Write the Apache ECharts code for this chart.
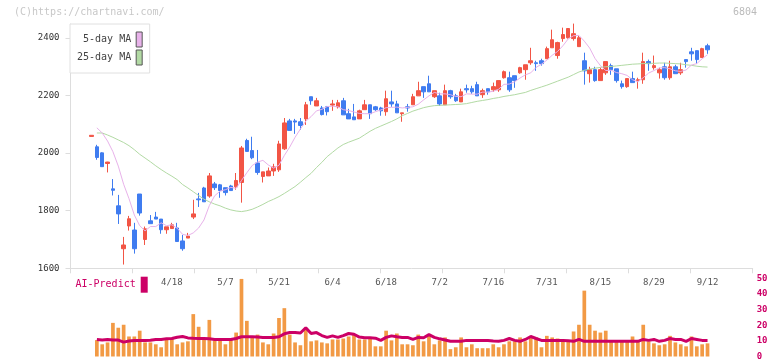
<!DOCTYPE html>
<html><head><meta charset="utf-8">
<script src="https://cdn.jsdelivr.net/npm/echarts@6/dist/echarts.min.js"></script>
<style>html,body{margin:0;padding:0;background:#fff}#c{width:772px;height:361px}</style>
</head><body><div id="c"></div>
<script>
const dates = ['3/28','3/31','4/1','4/2','4/3','4/4','4/7','4/8','4/9','4/10','4/11','4/14','4/15','4/16','4/17','4/18','4/21','4/22','4/23','4/24','4/25','4/28','4/30','5/1','5/2','5/7','5/8','5/9','5/12','5/13','5/14','5/15','5/16','5/19','5/20','5/21','5/22','5/23','5/26','5/27','5/28','5/29','5/30','6/2','6/3','6/4','6/5','6/6','6/9','6/10','6/11','6/12','6/13','6/16','6/17','6/18','6/19','6/20','6/23','6/24','6/25','6/26','6/27','6/30','7/1','7/2','7/3','7/4','7/7','7/8','7/9','7/10','7/11','7/14','7/15','7/16','7/17','7/18','7/22','7/23','7/24','7/25','7/28','7/29','7/30','7/31','8/1','8/4','8/5','8/6','8/7','8/8','8/12','8/13','8/14','8/15','8/18','8/19','8/20','8/21','8/22','8/25','8/26','8/27','8/28','8/29','9/1','9/2','9/3','9/4','9/5','9/8','9/9','9/10','9/11','9/12'];
const opens = [2058,2022,2001,1964,1876,1817,1668,1747,1733,1858,1700,1765,1778,1771,1734,1738,1740,1695,1705,1778,1841,1879,1851,1893,1890,1880,1886,1883,1898,2044,2009,1966,1919,1921,1938,1942,2015,2112,2112,2109,2119,2196,2164,2157,2161,2167,2161,2182,2137,2126,2119,2151,2168,2161,2157,2144,2178,2171,2137,2161,2168,2199,2231,2241,2196,2199,2168,2217,2199,2178,2224,2224,2238,2203,2224,2220,2220,2262,2262,2269,2279,2290,2314,2314,2321,2328,2366,2339,2398,2401,2398,2370,2321,2276,2290,2252,2279,2304,2293,2241,2231,2259,2252,2255,2318,2297,2279,2300,2262,2300,2279,2325,2352,2356,2332,2373];
const closes = [2062,1985,1953,1969,1871,1789,1681,1772,1668,1792,1737,1755,1771,1734,1744,1751,1693,1668,1712,1789,1838,1831,1921,1880,1870,1863,1870,1905,2018,2006,1984,1933,1935,1938,1952,2032,2105,2079,2108,2096,2168,2182,2182,2134,2144,2171,2175,2133,2119,2116,2147,2168,2137,2151,2147,2189,2171,2140,2140,2157,2196,2217,2213,2213,2217,2171,2217,2196,2182,2213,2220,2213,2199,2217,2213,2231,2252,2283,2220,2252,2297,2307,2321,2311,2311,2363,2394,2384,2412,2433,2415,2401,2286,2290,2252,2290,2318,2290,2252,2231,2259,2245,2255,2318,2311,2304,2290,2262,2300,2276,2290,2318,2345,2325,2363,2359];
const highs = [2062,2029,2003,1970,1910,1855,1709,1782,1758,1858,1745,1785,1796,1771,1744,1758,1758,1716,1723,1838,1862,1883,1931,1900,1893,1880,1890,1931,2025,2050,2057,2011,1935,1950,1963,2043,2122,2119,2119,2122,2178,2196,2192,2164,2164,2185,2185,2192,2154,2171,2151,2185,2168,2164,2161,2217,2217,2182,2140,2171,2206,2248,2231,2269,2217,2210,2238,2220,2206,2224,2238,2234,2248,2224,2224,2245,2252,2287,2283,2269,2300,2307,2366,2321,2328,2370,2429,2387,2436,2433,2450,2408,2349,2300,2300,2297,2318,2311,2293,2252,2259,2283,2262,2349,2325,2339,2297,2314,2321,2307,2314,2325,2366,2356,2366,2380];
const lows = [2058,1977,1953,1933,1853,1754,1613,1731,1651,1783,1681,1755,1771,1720,1720,1738,1693,1661,1705,1771,1813,1831,1845,1872,1845,1853,1870,1873,1828,2006,1979,1925,1898,1921,1921,1935,2011,2079,2067,2081,2098,2168,2164,2131,2131,2147,2155,2133,2119,2116,2119,2151,2119,2147,2130,2130,2161,2140,2109,2144,2168,2199,2192,2213,2192,2164,2168,2189,2178,2178,2210,2206,2199,2192,2203,2213,2213,2259,2213,2227,2276,2255,2307,2286,2304,2328,2366,2328,2387,2398,2391,2370,2238,2245,2248,2252,2272,2272,2245,2224,2227,2245,2224,2241,2286,2290,2259,2255,2255,2276,2272,2297,2321,2311,2332,2345];
const ma5 = [null,2088,2070,2042,2005,1955,1892,1842,1785,1748,1730,1745,1745,1758,1748,1751,1739,1718,1714,1723,1740,1768,1818,1852,1868,1873,1881,1878,1905,1932,1957,1969,1975,1959,1948,1958,1992,2021,2055,2084,2111,2127,2147,2152,2162,2163,2161,2151,2148,2143,2138,2137,2137,2144,2150,2158,2159,2160,2157,2159,2161,2170,2185,2199,2211,2206,2206,2203,2197,2196,2206,2205,2205,2212,2212,2215,2222,2239,2240,2248,2261,2272,2279,2298,2309,2323,2340,2353,2373,2397,2408,2409,2389,2365,2329,2304,2287,2288,2280,2276,2270,2255,2248,2262,2278,2287,2296,2297,2293,2286,2284,2289,2306,2311,2328,2342];
const ma25 = [null,2070,2070,2063,2055,2046,2037,2026,2012,1996,1983,1970,1956,1943,1931,1920,1908,1891,1879,1866,1853,1840,1831,1823,1817,1809,1803,1799,1797,1800,1805,1813,1822,1832,1840,1849,1860,1872,1884,1899,1915,1930,1950,1968,1988,2003,2018,2030,2038,2045,2052,2064,2076,2086,2094,2102,2110,2119,2130,2138,2146,2152,2158,2162,2165,2166,2167,2168,2169,2170,2172,2176,2180,2183,2186,2190,2193,2197,2200,2203,2207,2211,2218,2224,2230,2236,2243,2250,2257,2264,2273,2282,2288,2292,2295,2298,2300,2301,2303,2305,2307,2309,2310,2311,2312,2312,2313,2313,2312,2311,2310,2307,2305,2302,2300,2299];
const volume = [null,10.5,7.8,9.0,21.5,18.4,20.3,12.8,12.8,16.5,9.0,9.0,7.8,5.9,10.9,11.5,7.8,9.0,9.7,27.1,19.0,11.5,23.4,10.3,10.3,7.8,10.9,15.3,49.6,22.8,12.8,14.0,9.0,7.8,14.7,24.6,30.9,14.0,9.0,7.2,17.1,9.7,10.3,9.0,8.4,10.9,10.9,11.5,12.8,14.0,10.9,10.9,11.5,6.5,6.5,16.5,10.3,14.7,7.8,7.8,7.2,14.0,9.7,13.2,7.8,10.3,12.2,4.7,5.9,12.2,5.9,7.8,5.3,5.3,5.3,7.8,5.9,7.8,9.7,9.7,12.2,9.7,12.2,12.2,5.9,13.2,12.2,11.5,10.9,10.3,16.0,20.3,42.1,20.3,16.5,15.3,16.5,9.7,9.7,9.7,10.3,12.8,10.3,20.3,9.7,8.4,7.2,7.8,13.2,9.0,7.8,6.5,12.8,6.5,7.8,8.4];
const aiPredict = [null,10.9,10.5,10.9,10.6,10.5,9.2,9.9,10.3,10.3,10.3,10.4,10.9,10.9,11.3,11.5,12.3,12.8,11.9,11.6,11.5,11.5,11.3,10.9,10.9,10.9,10.9,11.5,12.6,12.6,12.6,12.4,12.2,12.2,12.2,12.6,14.5,15.3,15.3,15.0,18.4,14.7,15.3,13.4,12.2,13.2,12.2,13.4,14.7,14.2,12.4,12.0,12.0,11.7,10.3,12.2,13.2,12.6,12.2,12.2,11.0,12.2,12.0,14.0,12.2,11.3,10.5,9.7,9.7,9.7,10.3,10.3,10.3,10.3,10.3,9.9,9.7,10.3,11.5,10.3,9.7,10.9,12.8,11.5,10.3,10.3,10.3,10.3,10.3,10.0,9.7,10.9,9.7,9.7,9.7,9.7,9.7,9.7,9.7,9.7,9.7,9.7,9.7,10.9,10.3,10.9,9.7,10.3,11.5,10.9,10.9,9.7,11.5,10.9,10.3,10.3];
const priceTicks = {min:1600, max:2400, step:200};
const subTicks = {min:0, max:50, step:10};

const MONO = '"DejaVu Sans Mono","Liberation Mono",monospace';
const UP = '#f25545', DOWN = '#3f7cf0';
const PINK = '#e8b2ea', GREEN = '#b2daa4', MAG = '#cc0066', ORANGE = '#f29a45';
const candleData = dates.map((d, i) => [opens[i], closes[i], lows[i], highs[i]]);

const CL = 88.82, CR = 772 - 710.2;
const chart = echarts.init(document.getElementById('c'), null, {renderer: 'canvas'});
chart.setOption({
  animation: false,
  backgroundColor: '#fff',
  title: [
    {text: '(C)https://chartnavi.com/', left: 14, top: 7, padding: 0,
     textStyle: {fontSize: 10, color: '#c8c8c8', fontWeight: 'normal', fontFamily: MONO}},
    {text: '6804', right: 15, top: 7, padding: 0,
     textStyle: {fontSize: 10, color: '#bbbbbb', fontWeight: 'normal', fontFamily: MONO}}
  ],
  legend: [
    {data: [
      {name: '5-day MA', itemStyle: {color: PINK, borderColor: '#555', borderWidth: 1}},
      {name: '25-day MA', itemStyle: {color: GREEN, borderColor: '#555', borderWidth: 1}}],
     orient: 'vertical', left: 70, top: 24, align: 'right', icon: 'rect',
     itemWidth: 6, itemHeight: 15, itemGap: 2, padding: [7.5, 7],
     borderColor: '#e0e0e0', borderWidth: 1, backgroundColor: '#fff',
     selectedMode: false,
     textStyle: {fontFamily: MONO, fontSize: 10, color: '#444'}},
    {data: [{name: 'AI-Predict', itemStyle: {color: MAG}}],
     left: 75.5, top: 276.7, align: 'right', icon: 'rect', itemWidth: 7, itemHeight: 16,
     padding: 0, selectedMode: false,
     textStyle: {fontFamily: MONO, fontSize: 10, color: MAG}}
  ],
  grid: [
    {left: 70.5, right: 19.3, top: 24, bottom: 92.7},
    {left: CL, right: CR, top: 38, bottom: 92.7},
    {left: CL, right: CR, top: 278.3, bottom: 2.5}
  ],
  xAxis: [
    {gridIndex: 0, type: 'value', min: 0, max: 11, interval: 1,
     axisLine: {show: true, lineStyle: {color: '#dddddd'}},
     axisTick: {show: true, length: 5, lineStyle: {color: '#dddddd'}},
     axisLabel: {show: false}, splitLine: {show: false}},
    {gridIndex: 1, type: 'category', data: dates, boundaryGap: true, show: false},
    {gridIndex: 2, type: 'category', data: dates, boundaryGap: true, position: 'top',
     axisLine: {show: false}, axisTick: {show: false}, splitLine: {show: false},
     axisLabel: {inside: true, margin: 0, fontSize: 9, color: '#555', fontFamily: MONO,
       interval: (i) => i >= 15 && (i - 15) % 10 === 0}}
  ],
  yAxis: [
    {gridIndex: 0, type: 'value', min: 0, max: 1,
     axisLine: {show: true, lineStyle: {color: '#dddddd'}},
     axisTick: {show: false}, axisLabel: {show: false}, splitLine: {show: false}},
    {gridIndex: 1, type: 'value', min: priceTicks.min, max: priceTicks.max, interval: priceTicks.step,
     offset: CL - 70.5,
     axisLine: {show: false},
     axisTick: {show: true, length: 5, lineStyle: {color: '#dddddd'}},
     axisLabel: {margin: 11, fontSize: 9, color: '#333', fontFamily: MONO, formatter: (v) => String(v)},
     splitLine: {show: false}},
    {gridIndex: 2, type: 'value', min: subTicks.min, max: subTicks.max, interval: subTicks.step,
     position: 'right', offset: 752.7 - 710.2,
     axisLine: {show: false}, axisTick: {show: false}, splitLine: {show: false},
     axisLabel: {margin: 4, fontSize: 9, color: MAG, fontWeight: 'bold', fontFamily: MONO, formatter: (v) => String(v)}}
  ],
  series: [
    {name: '25-day MA', type: 'line', xAxisIndex: 1, yAxisIndex: 1, data: ma25,
     symbol: 'none', clip: false, lineStyle: {color: GREEN, width: 1}, itemStyle: {color: GREEN}},
    {name: '5-day MA', type: 'line', xAxisIndex: 1, yAxisIndex: 1, data: ma5,
     symbol: 'none', clip: false, lineStyle: {color: PINK, width: 1}, itemStyle: {color: PINK}},
    {name: 'price', type: 'candlestick', xAxisIndex: 1, yAxisIndex: 1, data: candleData,
     barWidth: 4, clip: false,
     itemStyle: {color: UP, color0: DOWN, borderColor: UP, borderColor0: DOWN, borderWidth: 1}},
    {name: 'volume', type: 'bar', xAxisIndex: 2, yAxisIndex: 2, data: volume,
     barWidth: 3.7, itemStyle: {color: ORANGE}},
    {name: 'AI-Predict', type: 'line', xAxisIndex: 2, yAxisIndex: 2, data: aiPredict,
     symbol: 'none', lineStyle: {color: MAG, width: 3}, itemStyle: {color: MAG}}
  ]
});
</script></body></html>
